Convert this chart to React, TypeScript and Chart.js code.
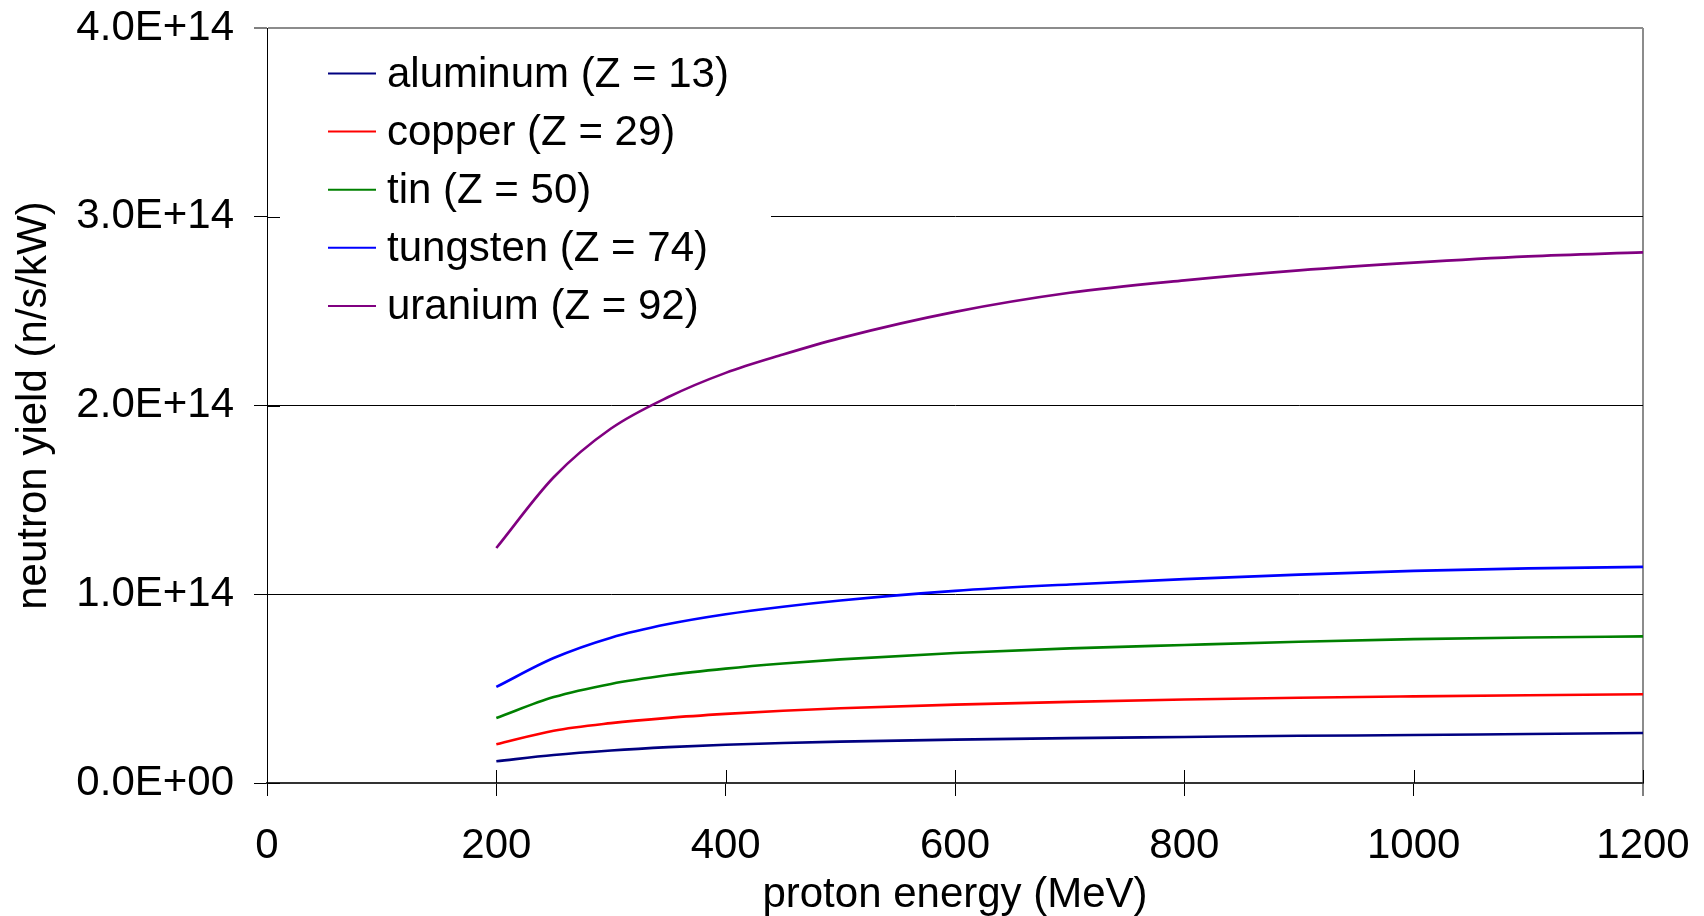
import React, { useEffect, useRef } from 'react';
import { Chart, registerables } from 'chart.js';

Chart.register(...registerables);

// proton energy (MeV)
const energies = [200, 250, 300, 350, 400, 450, 500, 600, 700, 800, 900, 1000, 1100, 1200];

// neutron yield (n/s/kW), in units of 1E+14
const aluminum = [0.115, 0.148, 0.172, 0.19, 0.203, 0.212, 0.219, 0.23, 0.238, 0.244, 0.25, 0.254, 0.26, 0.265];
const copper = [0.205, 0.277, 0.317, 0.345, 0.366, 0.383, 0.396, 0.415, 0.43, 0.442, 0.452, 0.459, 0.465, 0.47];
const tin = [0.344, 0.455, 0.525, 0.572, 0.606, 0.633, 0.655, 0.689, 0.713, 0.731, 0.748, 0.762, 0.771, 0.777];
const tungsten = [0.509, 0.662, 0.77, 0.842, 0.894, 0.934, 0.967, 1.018, 1.052, 1.08, 1.104, 1.124, 1.137, 1.145];
const uranium = [1.245, 1.62, 1.878, 2.045, 2.173, 2.27, 2.357, 2.496, 2.597, 2.663, 2.716, 2.757, 2.79, 2.811];

const seriesLabels = [
  'aluminum (Z = 13)',
  'copper (Z = 29)',
  'tin (Z = 50)',
  'tungsten (Z = 74)',
  'uranium (Z = 92)',
];
const seriesValues = [aluminum, copper, tin, tungsten, uranium];
const seriesColors = ['#000080', '#FF0000', '#008000', '#0000FF', '#800080'];

const UNIT = 1e14;
const xTickValues = [0, 200, 400, 600, 800, 1000, 1200];
const yTickValues = [0, 1e14, 2e14, 3e14, 4e14];

const FONT = '"Liberation Sans", Arial, Helvetica, sans-serif';
const FSIZE = 42;

function sci(v: number): string {
  if (v === 0) return '0.0E+00';
  const e = Math.floor(Math.log10(Math.abs(v)) + 1e-9);
  const m = v / Math.pow(10, e);
  return m.toFixed(1) + 'E' + (e >= 0 ? '+' : '-') + String(Math.abs(e)).padStart(2, '0');
}

const legendInside = {
  id: 'legendInside',
  afterDatasetsDraw(chart: any) {
    const { ctx, chartArea } = chart;
    ctx.save();
    // white legend box (hides grid line under it)
    ctx.fillStyle = '#ffffff';
    ctx.fillRect(chartArea.left + 1, 40, 771 - chartArea.left - 1, 295);
    ctx.font = `${FSIZE}px ${FONT}`;
    ctx.textBaseline = 'middle';
    ctx.textAlign = 'left';
    chart.data.datasets.forEach((ds: any, i: number) => {
      const y = 75.5 + i * 58.1;
      ctx.strokeStyle = ds.borderColor;
      ctx.lineWidth = 2;
      ctx.beginPath();
      ctx.moveTo(328, y - 2);
      ctx.lineTo(376, y - 2);
      ctx.stroke();
      ctx.fillStyle = '#000';
      ctx.fillText(ds.label, 387, y);
    });
    ctx.restore();
  },
  afterDraw(chart: any) {
    const { ctx, chartArea, scales } = chart;
    ctx.save();
    ctx.strokeStyle = '#000';
    ctx.lineWidth = 1;
    const inner = 13;
    scales.y.ticks.forEach((t: any) => {
      if (t.value >= 4e14) return;
      const py = Math.round(scales.y.getPixelForValue(t.value)) + 0.5;
      ctx.beginPath();
      ctx.moveTo(chartArea.left, py);
      ctx.lineTo(chartArea.left + inner, py);
      ctx.stroke();
    });
    scales.x.ticks.forEach((t: any) => {
      if (t.value === 0) return;
      const px = Math.round(scales.x.getPixelForValue(t.value)) + 0.5;
      ctx.beginPath();
      ctx.moveTo(px, chartArea.bottom);
      ctx.lineTo(px, chartArea.bottom - inner);
      ctx.stroke();
    });
    ctx.restore();
  },
};

export default function App() {
  const ref = useRef<HTMLCanvasElement | null>(null);

  useEffect(() => {
    if (!ref.current) return;
    const datasets = seriesLabels.map((label, i) => ({
      label,
      data: energies.map((e, j) => ({ x: e, y: seriesValues[i][j] * UNIT })),
      borderColor: seriesColors[i],
      backgroundColor: seriesColors[i],
      borderWidth: 2.6,
      pointRadius: 0,
      fill: false,
      cubicInterpolationMode: 'monotone' as const,
    }));

    const chart = new Chart(ref.current, {
      type: 'line',
      data: { datasets },
      options: {
        animation: false,
        responsive: false,
        devicePixelRatio: 1,
        layout: { padding: { left: 0, right: 61, top: 28, bottom: 0 } },
        plugins: {
          legend: { display: false },
          tooltip: { enabled: false },
        },
        scales: {
          x: {
            type: 'linear',
            min: 0,
            max: 1200,
            afterFit: (s: any) => {
              s.height = 133;
              s.paddingLeft = 0;
              s.paddingRight = 0;
            },
            afterBuildTicks: (s: any) => {
              s.ticks = xTickValues.map((v) => ({ value: v }));
            },
            ticks: {
              color: '#000',
              font: { family: FONT, size: FSIZE, lineHeight: 1.2 },
              padding: 25,
              maxRotation: 0,
              autoSkip: false,
              callback: (v: any) => String(v),
            },
            grid: {
              color: (c: any) => (c.tick && c.tick.value === 1200 ? '#8c8c8c' : 'rgba(0,0,0,0)'),
              lineWidth: (c: any) => (c.tick && c.tick.value === 1200 ? 2 : 1),
              drawTicks: true,
              tickLength: 13,
              tickColor: '#000',
              tickWidth: 1,
            },
            border: { display: true, color: '#333333', width: 2 },
            title: {
              display: true,
              text: 'proton energy (MeV)',
              color: '#000',
              font: { family: FONT, size: FSIZE, lineHeight: 1 },
              padding: { top: 0, bottom: 0 },
            },
          },
          y: {
            type: 'linear',
            min: 0,
            max: 4e14,
            afterFit: (s: any) => {
              s.width = 267;
              s.paddingTop = 0;
              s.paddingBottom = 0;
            },
            afterBuildTicks: (s: any) => {
              s.ticks = yTickValues.map((v) => ({ value: v }));
            },
            ticks: {
              color: '#000',
              font: { family: FONT, size: FSIZE, lineHeight: 1.2 },
              padding: 20,
              autoSkip: false,
              callback: (v: any) => sci(Number(v)),
            },
            grid: {
              color: (c: any) => {
                const v = c.tick ? c.tick.value : -1;
                if (v === 0) return 'rgba(0,0,0,0)';
                if (v === 4e14) return '#8c8c8c';
                return '#000';
              },
              lineWidth: (c: any) => (c.tick && c.tick.value === 4e14 ? 2 : 1),
              drawTicks: true,
              tickLength: 13,
              tickColor: '#000',
              tickWidth: 1,
            },
            border: { display: true, color: '#000', width: 1 },
            title: {
              display: true,
              text: 'neutron yield (n/s/kW)',
              color: '#000',
              font: { family: FONT, size: FSIZE, lineHeight: 1.2 },
              padding: { top: 9, bottom: 0 },
            },
          },
        },
      },
      plugins: [legendInside],
    });

    return () => {
      chart.destroy();
    };
  }, []);

  return (
    <div style={{ position: 'fixed', left: 0, top: 0, width: 1704, height: 916, background: '#fff' }}>
      <canvas ref={ref} width={1704} height={916} style={{ width: 1704, height: 916, display: 'block' }} />
    </div>
  );
}
